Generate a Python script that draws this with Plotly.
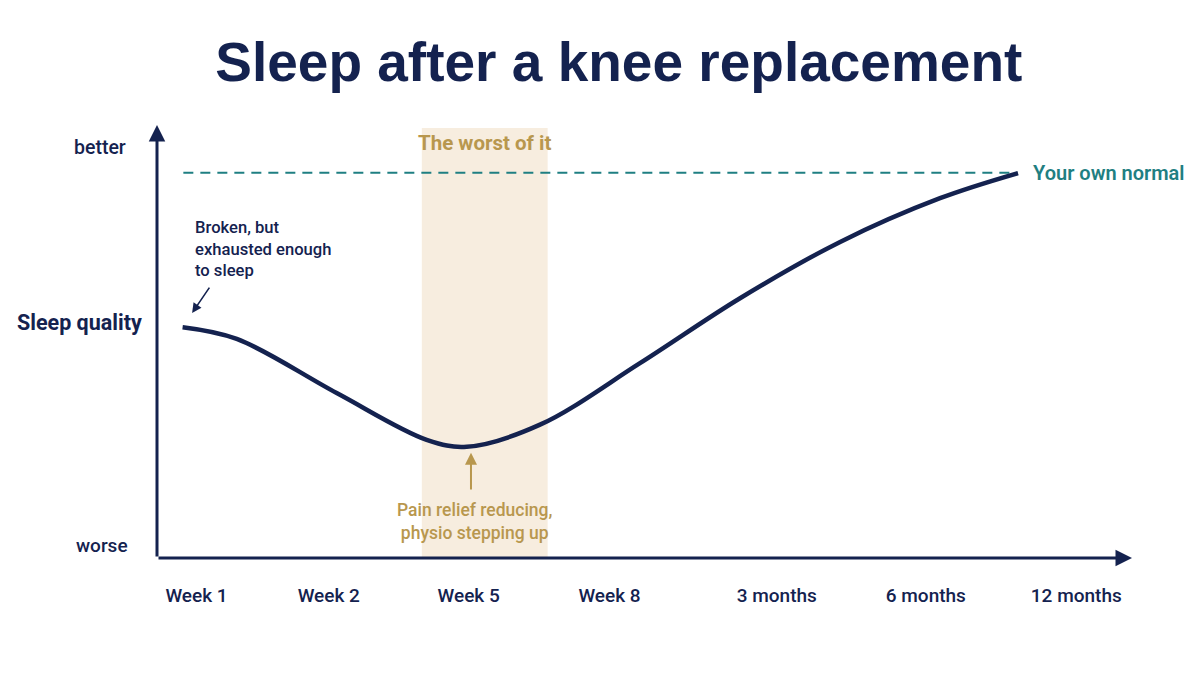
import plotly.graph_objects as go

# ---- data ----
tick_labels = ["Week 1", "Week 2", "Week 5", "Week 8", "3 months", "6 months", "12 months"]
tick_positions = [-0.01, 0.894, 1.85, 2.813, 3.956, 4.975, 6.003]

curve_x = [-0.105, 0.265, 0.948, 1.563, 1.837, 2.338, 3.021, 3.705, 4.389, 5.072, 5.605]
curve_y = [53.3, 50.6, 38.1, 27.3, 25.7, 30.8, 45.0, 60.0, 73.0, 83.1, 88.9]

normal_level = 89.0
normal_x = [-0.10, 5.60]

worst_start = 1.53
worst_end = 2.39

NAVY = "#14224F"
TEAL = "#1F7F82"
GOLD = "#B8974E"
SAND = "#F7EDDF"

X_RANGE = [-0.28, 6.384]
Y_RANGE = [0, 100]

fig = go.Figure()

# shaded "worst" band
fig.add_shape(type="rect", xref="x", yref="y", x0=worst_start, x1=worst_end, y0=0, y1=99.3,
              fillcolor=SAND, line=dict(width=0), layer="below")

# own normal dashed line
fig.add_trace(go.Scatter(x=normal_x, y=[normal_level, normal_level], mode="lines",
                         line=dict(color=TEAL, width=2, dash="10px,7px"), hoverinfo="skip"))

# sleep curve
fig.add_trace(go.Scatter(x=curve_x, y=curve_y, mode="lines",
                         line=dict(color=NAVY, width=4.5, shape="spline", smoothing=1.0),
                         hoverinfo="skip"))

annotations = []

# axis arrows
annotations.append(dict(x=X_RANGE[1], y=0, ax=X_RANGE[0], ay=0, xref="x", yref="y", axref="x", ayref="y",
                        showarrow=True, arrowhead=2, arrowsize=1.1, arrowwidth=3, arrowcolor=NAVY, text=""))
annotations.append(dict(x=X_RANGE[0], y=Y_RANGE[1], ax=X_RANGE[0], ay=0, xref="x", yref="y", axref="x", ayref="y",
                        showarrow=True, arrowhead=2, arrowsize=1.1, arrowwidth=3, arrowcolor=NAVY, text=""))

# y labels
annotations.append(dict(x=-0.0585, y=94.7, xref="paper", yref="y", text="better", showarrow=False,
                        font=dict(family="Roboto", size=19.5, color=NAVY, weight=500), xanchor="center", yanchor="middle"))
annotations.append(dict(x=-0.079, y=54.3, xref="paper", yref="y", text="Sleep quality", showarrow=False,
                        font=dict(family="Roboto", size=21.5, color=NAVY, weight=700), xanchor="center", yanchor="middle"))
annotations.append(dict(x=-0.0564, y=2.8, xref="paper", yref="y", text="worse", showarrow=False,
                        font=dict(family="Roboto", size=19, color=NAVY, weight=500), xanchor="center", yanchor="middle"))

# worst of it label
annotations.append(dict(x=(worst_start + worst_end) / 2, y=95.8, xref="x", yref="y", text="The worst of it",
                        showarrow=False, font=dict(family="Roboto", size=20.5, color=GOLD, weight=700),
                        xanchor="center", yanchor="middle"))

# pain relief annotation + arrow
annotations.append(dict(x=1.866, y=24.3, ax=1.866, ay=15.5, xref="x", yref="y", axref="x", ayref="y",
                        showarrow=True, arrowhead=2, arrowsize=1.2, arrowwidth=2, arrowcolor=GOLD, text=""))
annotations.append(dict(x=1.893, y=8.5, xref="x", yref="y",
                        text="Pain relief reducing,<br>physio stepping up", showarrow=False,
                        font=dict(family="Roboto", size=17.5, color=GOLD, weight=500),
                        xanchor="center", yanchor="middle", align="center"))

# broken annotation + arrow
annotations.append(dict(x=-0.04, y=56.6, ax=0.085, ay=62.8, xref="x", yref="y", axref="x", ayref="y",
                        showarrow=True, arrowhead=2, arrowsize=1.2, arrowwidth=1.6, arrowcolor=NAVY, text=""))
annotations.append(dict(x=-0.034, y=71.4, xref="x", yref="y",
                        text="Broken, but<br>exhausted enough<br>to sleep", showarrow=False,
                        font=dict(family="Roboto", size=16.6, color=NAVY, weight=500),
                        xanchor="left", yanchor="middle", align="left"))

# own normal label
annotations.append(dict(x=5.694, y=normal_level, xref="x", yref="y", text="Your own normal", showarrow=False,
                        font=dict(family="Roboto", size=20, color=TEAL, weight=600),
                        xanchor="left", yanchor="middle"))

fig.update_layout(
    width=1200, height=679,
    margin=dict(l=149, r=76, t=117, b=129),
    paper_bgcolor="white", plot_bgcolor="white",
    showlegend=False,
    title=dict(text="Sleep after a knee replacement", x=0.509, xanchor="center",
               y=1 - 54 / 679, yanchor="middle", yref="container",
               font=dict(family="Liberation Sans", size=55, color=NAVY, weight=700)),
    annotations=annotations,
    xaxis=dict(range=X_RANGE, showgrid=False, zeroline=False, showline=False,
               tickvals=tick_positions, ticktext=tick_labels, ticks="",
               ticklabelstandoff=24,
               tickfont=dict(family="Roboto", size=19, color=NAVY, weight=500), fixedrange=True),
    yaxis=dict(range=Y_RANGE, showgrid=False, zeroline=False, showline=False,
               showticklabels=False, ticks="", fixedrange=True),
)

fig.write_html("out.html")
